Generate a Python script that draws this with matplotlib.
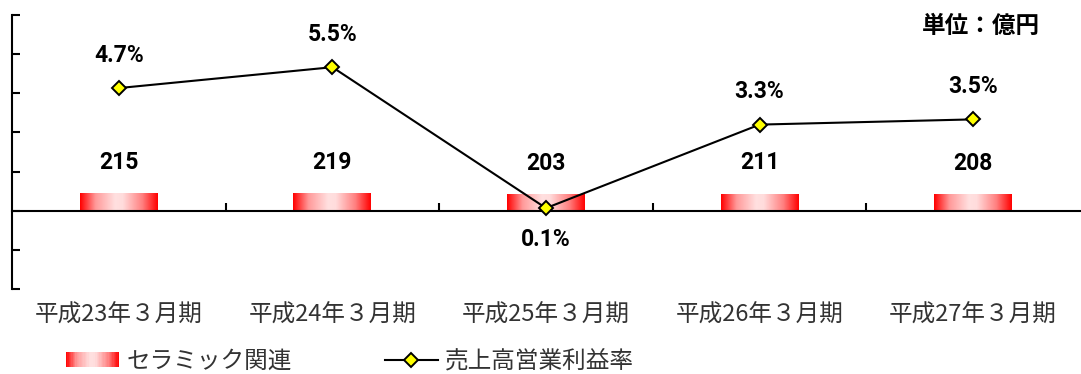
import numpy as np
import matplotlib
matplotlib.use("Agg")
import matplotlib.pyplot as plt
from matplotlib import font_manager
from matplotlib.colors import LinearSegmentedColormap
from matplotlib.patches import Rectangle
from matplotlib.legend_handler import HandlerBase
from matplotlib.lines import Line2D

# ---- data ----
categories = ["平成23年３月期", "平成24年３月期", "平成25年３月期", "平成26年３月期", "平成27年３月期"]
sales = [215, 219, 203, 211, 208]            # セラミック関連 (億円)
margin = [4.7, 5.5, 0.1, 3.3, 3.5]           # 売上高営業利益率 (%)
bar_name = "セラミック関連"
line_name = "売上高営業利益率"
unit_text = "単位：億円"

CJK = ["Noto Sans CJK JP", "DejaVu Sans"]


def pick(names, fallback):
    for name in names:
        try:
            font_manager.findfont(font_manager.FontProperties(family=name, weight="bold"),
                                  fallback_to_default=False)
            return name
        except Exception:
            pass
    return fallback


NUMFONT = [pick(["Roboto", "Liberation Sans Narrow"], "DejaVu Sans"), "DejaVu Sans"]

plt.rcParams["font.family"] = CJK

W, H = 1081, 374
fig = plt.figure(figsize=(W / 100, H / 100), dpi=100)
fig.patch.set_facecolor("white")

ax = fig.add_axes([12 / W, 85 / H, 1068 / W, 274 / H])
axb = ax.twinx()
ax.set_zorder(axb.get_zorder() + 1)
ax.patch.set_visible(False)

x = np.arange(len(categories))

# ---- bars with gradient ----
cmap = LinearSegmentedColormap.from_list(
    "grad", [(0.0, "#ff0000"), (0.2, "#ff9a9a"), (0.45, "#ffe0e0"), (0.55, "#ffdcdc"),
             (0.8, "#ff8080"), (1.0, "#ff0000")])
grad = np.linspace(0, 1, 256).reshape(1, -1)
bars = axb.bar(x, sales, width=0.365, color="none", edgecolor="none", zorder=2)
for p in bars.patches:
    x0, y0 = p.get_x(), p.get_y()
    x1, y1 = x0 + p.get_width(), y0 + p.get_height()
    im = axb.imshow(grad, extent=[x0, x1, y0, y1], aspect="auto", cmap=cmap,
                    interpolation="bilinear", zorder=2)
    im.set_clip_path(p)
axb.set_xlim(-0.5, len(categories) - 0.5)
axb.set_ylim(-960, 2400)
axb.set_yticks([])
for s in axb.spines.values():
    s.set_visible(False)
for xi, v in zip(x, sales):
    axb.annotate(f"{v}", (xi, v), xytext=(0, 22), textcoords="offset points",
                 ha="center", va="center", fontsize=16.5, fontweight="bold",
                 family=NUMFONT, color="black")

# ---- line ----
ax.plot(x, margin, color="black", lw=1.5, marker="D", ms=7.5,
        markerfacecolor="#ffff00", markeredgecolor="black", mew=1.4,
        zorder=5, clip_on=False)
for xi, v in zip(x, margin):
    off = 23.5 if v >= 1 else -22.5
    ax.annotate(f"{v:.1f}%", (xi, v), xytext=(0, off), textcoords="offset points",
                ha="center", va="center", fontsize=16.5, fontweight="bold",
                family=NUMFONT, color="black")

ax.set_xlim(-0.5, len(categories) - 0.5)
ax.set_ylim(-3, 7.5)
ax.set_yticks(np.arange(-3, 7.51, 1.5))
ax.set_yticklabels([])
ax.tick_params(axis="y", direction="in", length=6, width=1.5, color="black")
ax.set_xticks(np.arange(0.5, len(categories) - 1, 1.0))
ax.set_xticklabels([])
ax.tick_params(axis="x", direction="in", length=6, width=1.5, color="black")
ax.spines["top"].set_visible(False)
ax.spines["right"].set_visible(False)
ax.spines["bottom"].set_position(("data", 0))
ax.spines["bottom"].set_linewidth(1.5)
ax.spines["left"].set_linewidth(1.5)

sec = ax.secondary_xaxis(0.0)
sec.set_xticks(x, labels=categories)
sec.tick_params(length=0, pad=10.5, labelsize=17, labelcolor="#333333")
sec.spines["bottom"].set_visible(False)

fig.text(1040 / W, 1 - 26 / H, unit_text, ha="right", va="center",
         fontsize=17, fontweight="bold", family=CJK)


# ---- legend ----
class GradientHandler(HandlerBase):
    def create_artists(self, legend, orig_handle, xdescent, ydescent,
                       width, height, fontsize, trans):
        n = 40
        arts = []
        for i in range(n):
            c = cmap((i + 0.5) / n)
            r = Rectangle((-xdescent + width * i / n, -ydescent), width / n * 1.05, height,
                          facecolor=c, edgecolor="none", transform=trans)
            arts.append(r)
        return arts


bar_handle = Rectangle((0, 0), 1, 1, facecolor="red")
line_handle = Line2D([], [], color="black", lw=1.5, marker="D", ms=7.5,
                     markerfacecolor="#ffff00", markeredgecolor="black", mew=1.4)
leg = fig.legend([bar_handle, line_handle], [bar_name, line_name],
                 handler_map={Rectangle: GradientHandler()},
                 loc="center left", bbox_to_anchor=(66 / W, 1 - 361 / H),
                 ncol=2, frameon=False, fontsize=17, borderpad=0, borderaxespad=0,
                 handlelength=2.25, handleheight=0.58, handletextpad=0.3,
                 columnspacing=3.95)
for t in leg.get_texts():
    t.set_color("#333333")

fig.savefig("out.png", dpi=100, facecolor="white")
